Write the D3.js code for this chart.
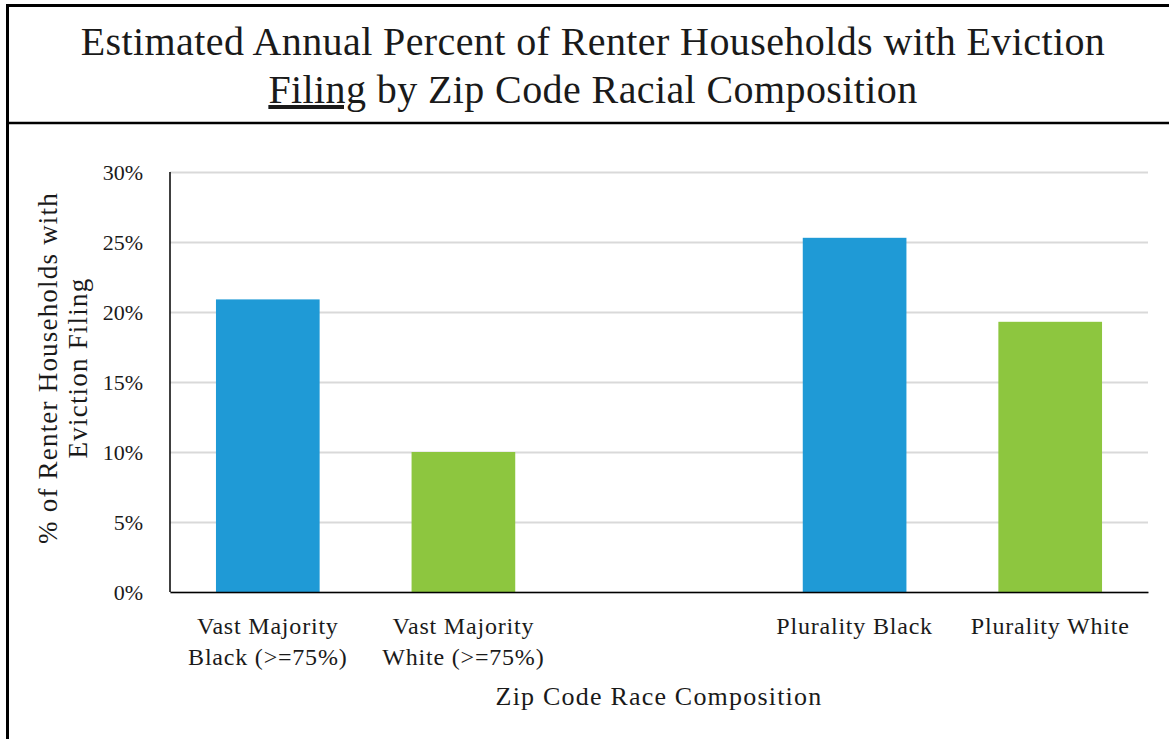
<!DOCTYPE html>
<html>
<head>
<meta charset="utf-8">
<script src="https://cdn.jsdelivr.net/npm/d3@7"></script>
<style>
  body { margin:0; background:#fff; }
  text { font-family:"Liberation Serif", serif; fill:#1a1a1a; }
</style>
</head>
<body>
<div id="canvas"></div>
<script>
// data
var categories = ['Vast Majority|Black (>=75%)', 'Vast Majority|White (>=75%)', ' ', 'Plurality Black', 'Plurality White'];
var values = [20.9, 10.0, null, 25.3, 19.3];
var colors = ['#1f9ad6', '#8dc63f', null, '#1f9ad6', '#8dc63f'];
var yTicks = [0, 5, 10, 15, 20, 25, 30];

var W = 1169, H = 739;
var m = {t:172, r:21, b:147, l:170};
var w = W - m.l - m.r,
    h = H - m.t - m.b;

var svg = d3.select('#canvas').append('svg')
    .attr('width', W).attr('height', H);

// frame
svg.append('path')
    .attr('d', 'M7.5,' + H + 'V5.5H' + W)
    .attr('fill', 'none').attr('stroke', '#000').attr('stroke-width', 3);
svg.append('line')
    .attr('x1', 7).attr('x2', W).attr('y1', 123).attr('y2', 123)
    .attr('stroke', '#000').attr('stroke-width', 2.5);

// title
var title = svg.append('text')
    .attr('text-anchor', 'middle')
    .style('font-size', '40px')
    .style('letter-spacing', '0.4px');
title.append('tspan').attr('x', 593).attr('y', 55)
    .text('Estimated Annual Percent of Renter Households with Eviction');
var t2 = title.append('tspan').attr('x', 593).attr('y', 103);
t2.append('tspan').style('text-decoration', 'underline').text('Filing');
t2.append('tspan').text(' by Zip Code Racial Composition');

var plot = svg.append('g')
    .attr('transform', 'translate(' + m.l + ',' + m.t + ')');

var x = d3.scaleBand().domain(categories).range([0, w]).paddingInner(0.47).paddingOuter(0.235);
var y = d3.scaleLinear().domain([0, 30]).range([h, 0]);

// gridlines
plot.append('g')
    .call(d3.axisLeft(y).tickValues(yTicks).tickSize(-w).tickFormat(''))
    .call(function(g){
        g.select('.domain').remove();
        g.selectAll('line').attr('stroke', '#d9d9d9').attr('stroke-width', 2);
    });

// bars
plot.selectAll('rect.bar')
    .data(categories.map(function(c, i){ return {c:c, v:values[i], col:colors[i]}; })
        .filter(function(d){ return d.v != null; }))
    .enter().append('rect')
    .attr('class', 'bar')
    .attr('x', function(d){ return x(d.c); })
    .attr('y', function(d){ return y(d.v); })
    .attr('width', x.bandwidth())
    .attr('height', function(d){ return h - y(d.v); })
    .attr('fill', function(d){ return d.col; });

// y axis
var yAxis = plot.append('g')
    .call(d3.axisLeft(y).tickValues(yTicks).tickSize(0).tickPadding(27)
        .tickFormat(function(d){ return d + '%'; }));
yAxis.select('.domain').remove();
yAxis.selectAll('text').style('font-size', '22px').attr('fill', '#1a1a1a');

plot.append('line').attr('x1', 0).attr('x2', 0).attr('y1', 0).attr('y2', h)
    .attr('stroke', '#000').attr('stroke-width', 1.5);

// x axis
var xAxis = plot.append('g')
    .attr('transform', 'translate(0,' + h + ')')
    .call(d3.axisBottom(x).tickSize(0).tickFormat(''));
xAxis.select('.domain').attr('stroke', '#000').attr('stroke-width', 1.5);
xAxis.selectAll('.tick').append('text')
    .attr('text-anchor', 'middle')
    .style('font-size', '24px')
    .style('letter-spacing', '0.8px')
    .each(function(d){
        var lines = d.split('|'), el = d3.select(this);
        lines.forEach(function(l, i){
            el.append('tspan').attr('x', 0).attr('y', 42 + i * 31).text(l);
        });
    });

// axis titles
svg.append('text')
    .attr('x', m.l + w / 2).attr('y', 705)
    .attr('text-anchor', 'middle')
    .style('font-size', '26px')
    .style('letter-spacing', '1.2px')
    .text('Zip Code Race Composition');

var yt = svg.append('text')
    .attr('transform', 'translate(0,368) rotate(-90)')
    .attr('text-anchor', 'middle')
    .style('font-size', '27px')
    .style('letter-spacing', '1.2px');
yt.append('tspan').attr('x', 0).attr('y', 57).text('% of Renter Households with');
yt.append('tspan').attr('x', 0).attr('y', 87).text('Eviction Filing');
</script>
</body>
</html>
